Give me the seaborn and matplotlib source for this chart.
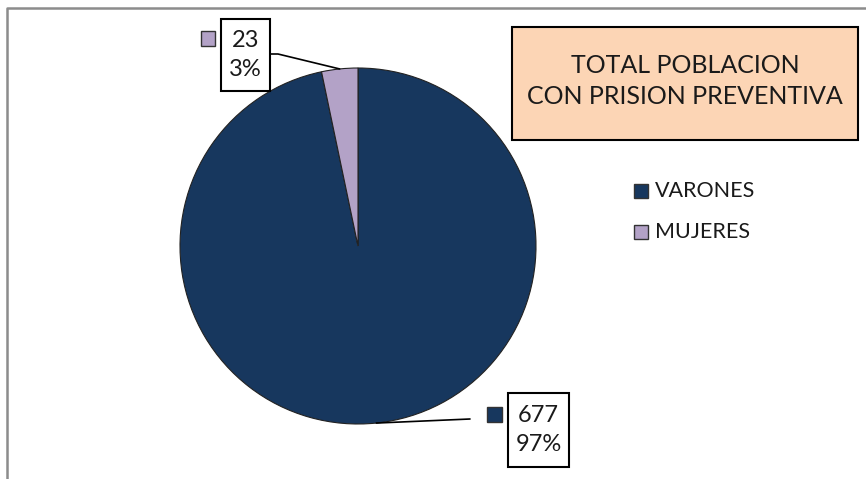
import numpy as np
import matplotlib.pyplot as plt
import seaborn as sns
from matplotlib.patches import Rectangle
from matplotlib.lines import Line2D

# data
categories = ['VARONES', 'MUJERES']
values = [677, 23]
colors = ['#17375E', '#B3A2C7']
title_lines = ['TOTAL POBLACION', 'CON PRISION PREVENTIVA']

W, H = 866, 479
sns.set_theme(style='white')
plt.rcParams['font.family'] = ['Lato', 'DejaVu Sans']
TXT = '#1a1a1a'


def fx(x):
    return x / W


def fy(y):
    return 1 - y / H


fig = plt.figure(figsize=(W / 100, H / 100), dpi=100)
fig.patch.set_facecolor('white')

# pie: center (358, 246), radius 178 px
cx, cy, r = 358, 246, 178
ax = fig.add_axes([fx(cx - r), fy(cy + r), 2 * r / W, 2 * r / H])
wedges, _ = ax.pie(values, colors=colors, startangle=90, counterclock=False,
                   radius=1, wedgeprops={'edgecolor': '#222222', 'linewidth': 0.8})
ax.set_xlim(-1, 1)
ax.set_ylim(-1, 1)
ax.set_aspect('equal')
ax.axis('off')

total = sum(values)
pcts = [v / total * 100 for v in values]


def wedge_px(w):
    ang = np.deg2rad((w.theta1 + w.theta2) / 2)
    return cx + r * np.cos(ang), cy - r * np.sin(ang)


def fig_box(x0, y0, x1, y1, face='white', lw=1.5, ec='black'):
    fig.patches.append(Rectangle((fx(x0), fy(y1)), fx(x1) - fx(x0), fy(y0) - fy(y1),
                                 transform=fig.transFigure, facecolor=face,
                                 edgecolor=ec, linewidth=lw, zorder=3))


def fig_line(xs, ys, color='black', lw=1.2):
    fig.lines.append(Line2D([fx(x) for x in xs], [fy(y) for y in ys],
                            transform=fig.transFigure, color=color, linewidth=lw, zorder=2))


# data labels
label_boxes = {
    'VARONES': dict(box=(508, 393, 569, 467), mark=(487, 407, 502, 422), elbow=[(470, 419)]),
    'MUJERES': dict(box=(221, 19, 270, 91), mark=(201, 31, 215, 46), elbow=[(278, 54), (268, 54)]),
}
for w, cat, val, pct, col in zip(wedges, categories, values, pcts, colors):
    spec = label_boxes[cat]
    px, py = wedge_px(w)
    pts = [(px, py)] + spec['elbow']
    fig_line([p[0] for p in pts], [p[1] for p in pts])
    x0, y0, x1, y1 = spec['box']
    fig_box(x0, y0, x1, y1, lw=1.5)
    fig.text(fx((x0 + x1) / 2), fy((y0 + y1) / 2), f'{val}\n{pct:.0f}%',
             ha='center', va='center', fontsize=17, color=TXT,
             linespacing=1.45, zorder=4)
    m0, n0, m1, n1 = spec['mark']
    fig_box(m0, n0, m1, n1, face=col, lw=1.0, ec='#333333')

# title box
fig_box(512, 27, 858, 140, face='#FCD5B5', lw=1.5)
fig.text(fx(685), fy(81), '\n'.join(title_lines), ha='center', va='center',
         fontsize=18, color=TXT, linespacing=1.4, zorder=4)

# legend
for i, (cat, col) in enumerate(zip(categories, colors)):
    yc = 191 + i * 41
    fig_box(634, yc - 7, 648, yc + 7, face=col, lw=1.0, ec='#333333')
    fig.text(fx(655), fy(yc), cat, ha='left', va='center', fontsize=15.5, color=TXT)

# chart area border (left and top visible)
fig_line([7, 7, W], [H, 8, 8], color='#8c8c8c', lw=1.8)

fig.savefig('out.png', dpi=100, facecolor='white')
